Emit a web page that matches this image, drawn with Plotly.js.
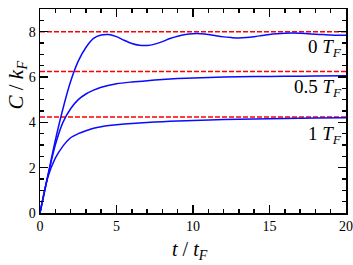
<!DOCTYPE html>
<html>
<head>
<meta charset="utf-8">
<script src="https://cdn.plot.ly/plotly-3.0.1.min.js"></script>
<style>html,body{margin:0;padding:0;background:#fff}#chart{width:353px;height:265px}</style>
</head>
<body>
<div id="chart"></div>
<script>
const t0 = [0,0.5,1,1.5,2,2.5,3,3.5,4,4.5,5,5.5,6,6.5,7,7.5,8,8.5,9,9.5,10,10.5,11,11.5,12,12.5,13,13.5,14,14.5,15,15.5,16,16.5,17,17.5,18,18.5,19,19.5,20];
const c0 = [0,1.6,3.2,4.6,5.8,6.7,7.3,7.7,7.85,7.87,7.78,7.62,7.48,7.4,7.39,7.45,7.56,7.7,7.8,7.87,7.91,7.91,7.88,7.82,7.77,7.74,7.72,7.74,7.78,7.83,7.88,7.91,7.93,7.94,7.93,7.91,7.89,7.87,7.85,7.84,7.84];
const t05 = [0,0.5,1,1.5,2,2.5,3,3.5,4,5,6,7,8,9,10,12,14,16,18,20];
const c05 = [0,1.6,3.0,4.0,4.6,5.0,5.25,5.42,5.55,5.7,5.78,5.84,5.89,5.93,5.96,6.0,6.02,6.03,6.04,6.05];
const t1 = [0,0.5,1,1.5,2,2.5,3,3.5,4,5,6,7,8,9,10,12,14,16,18,20];
const c1 = [0,1.55,2.42,2.95,3.32,3.5,3.63,3.74,3.81,3.89,3.95,3.99,4.03,4.06,4.08,4.12,4.15,4.17,4.19,4.2];
const limits = [8.0, 6.24, 4.23];
const curveLabels = ['0 <i>T</i><sub><i>F</i></sub>', '0.5 <i>T</i><sub><i>F</i></sub>', '1 <i>T</i><sub><i>F</i></sub>'];
const labelY = [7.3, 5.5, 3.45];
const xRange = [0, 20];
const yRange = [0, 9];

const serif = 'Liberation Serif, Times New Roman, serif';
const traces = [];
limits.forEach(v => traces.push({x: xRange, y: [v, v], mode: 'lines', line: {color: '#ff0000', width: 1.5, dash: '5px,2px'}, hoverinfo: 'skip'}));
[[t0,c0],[t05,c05],[t1,c1]].forEach(([x,y]) => traces.push({x: x, y: y, mode: 'lines', line: {color: '#0a0aff', width: 1.5, shape: 'spline', smoothing: 0.8}}));

const axisCommon = {
  showgrid: false, zeroline: false, showline: true, linecolor: '#000', linewidth: 1.5,
  mirror: 'allticks', ticks: 'inside', ticklen: 8, tickwidth: 1.5, tickcolor: '#000',
  tickmode: 'linear', tick0: 0,
  tickfont: {family: serif, size: 14, color: '#000'}
};
const layout = {
  width: 353, height: 265,
  margin: {l: 40, r: 7, t: 9, b: 52},
  paper_bgcolor: '#fff', plot_bgcolor: '#fff',
  showlegend: false,
  xaxis: Object.assign({}, axisCommon, {range: xRange, dtick: 5,
    minor: {dtick: 1, tick0: 0, ticks: 'inside', ticklen: 4, tickcolor: '#000', tickwidth: 1.5, showgrid: false}}),
  yaxis: Object.assign({}, axisCommon, {range: yRange, dtick: 2,
    minor: {dtick: 0.5, tick0: 0, ticks: 'inside', ticklen: 4, tickcolor: '#000', tickwidth: 1.5, showgrid: false}}),
  annotations: [
    {xref: 'paper', yref: 'paper', x: 0.49, y: -0.185, yanchor: 'middle', showarrow: false,
     text: '<i>t</i> / <i>t</i><sub><i>F</i></sub>', font: {family: serif, size: 20, color: '#000'}},
    {xref: 'paper', yref: 'paper', x: -0.075, y: 0.63, xanchor: 'center', yanchor: 'middle', showarrow: false, textangle: -90,
     text: '<i>C</i> / <i>k</i><sub><i>F</i></sub>', font: {family: serif, size: 21, color: '#000'}}
  ].concat(curveLabels.map((s, i) => ({x: 19.85, y: labelY[i], xanchor: 'right', yanchor: 'middle', showarrow: false,
     text: s, font: {family: serif, size: 19, color: '#000'}})))
};
Plotly.newPlot('chart', traces, layout, {displayModeBar: false, staticPlot: true});
</script>
</body>
</html>
